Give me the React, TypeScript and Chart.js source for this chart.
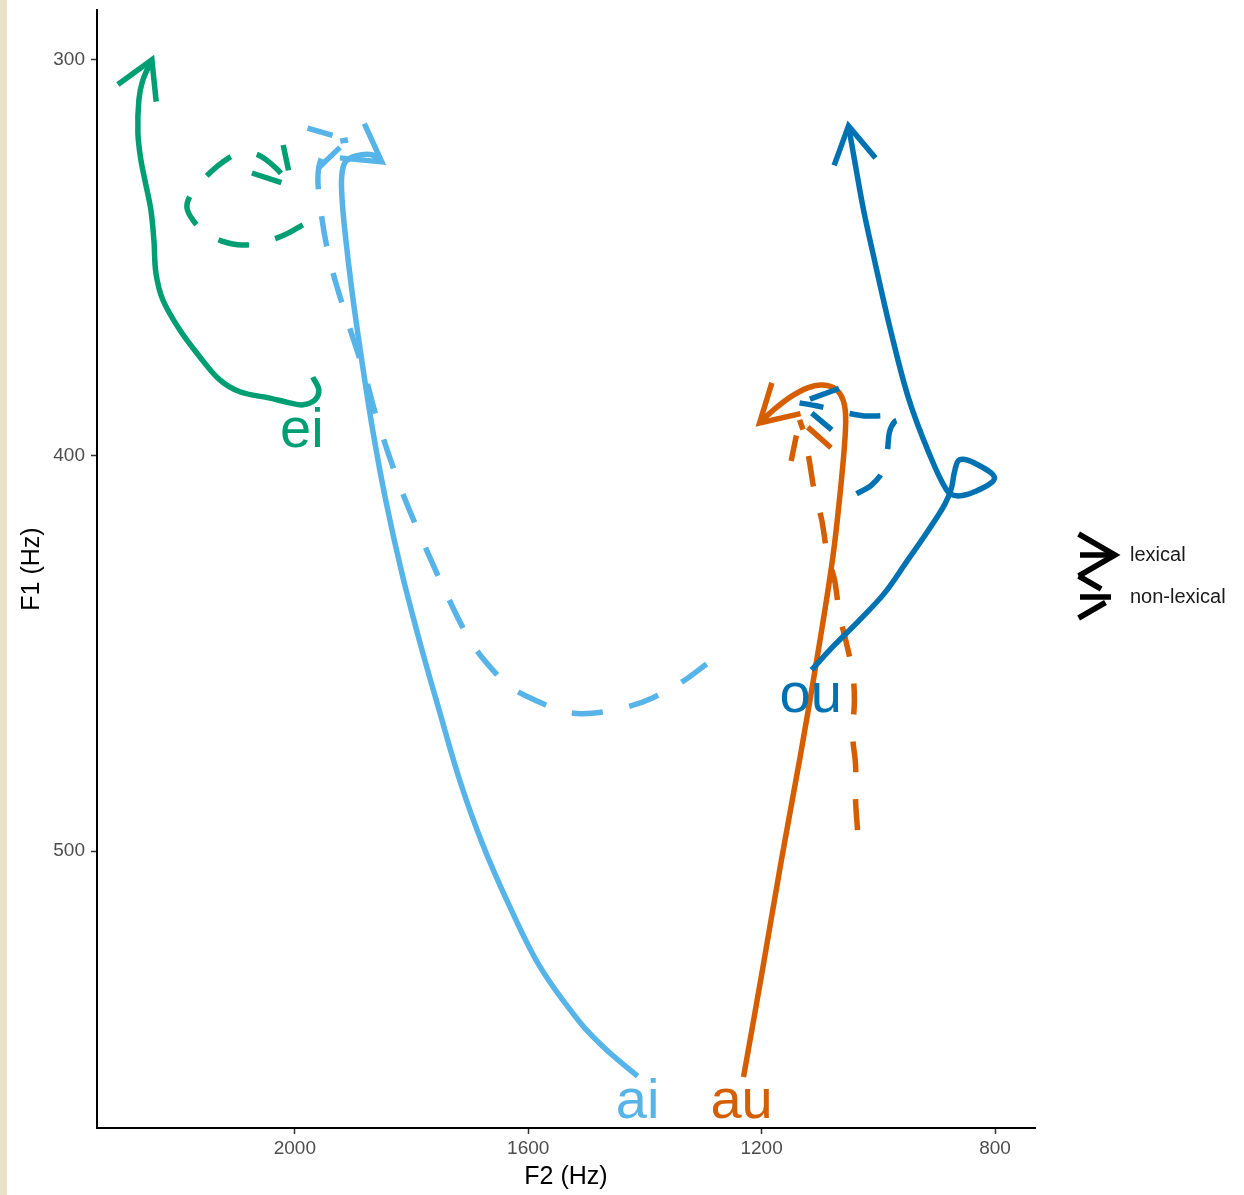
import React, { useEffect, useRef } from 'react';
import { Chart, registerables } from 'chart.js';

Chart.register(...registerables);

const FONT = "'Liberation Sans', Arial, Helvetica, sans-serif";

// categories
const vowels = ['ei', 'ai', 'au', 'ou'];
const conditions = ['lexical', 'non-lexical'];
const vowelColors = ['#009E73', '#56B4E9', '#D55E00', '#0072B2'];
const conditionDashes: number[][] = [[], [31, 27]];

// axes
const f2Ticks = [800, 1200, 1600, 2000];
const f1Ticks = [300, 400, 500];
const f2Min = 731.5;
const f2Max = 2339;
const f1Min = 287.4;
const f1Max = 570;

// ei
const eiLexF2 = [1969.2, 1958.9, 1965.7, 1986.3, 2008.6, 2042.8, 2094.2, 2128.5, 2162.7, 2197.0, 2226.1, 2238.0, 2241.5, 2246.6, 2255.2, 2263.8, 2268.9, 2267.2, 2260.4, 2244.9];
const eiLexF1 = [380.2, 383.4, 386.0, 387.2, 386.7, 385.5, 383.9, 380.9, 375.1, 368.3, 360.7, 353.9, 345.5, 338.0, 331.6, 325.3, 318.5, 310.1, 305.1, 300.0];
const eiNonF2 = [1986.3, 2017.1, 2051.4, 2089.1, 2125.0, 2154.2, 2174.7, 2185.0, 2176.4, 2154.2, 2125.0, 2094.2, 2063.4, 2034.3, 2005.1];
const eiNonF1 = [341.7, 344.2, 346.0, 346.8, 345.8, 343.5, 340.5, 337.2, 333.6, 329.8, 326.0, 323.5, 324.0, 327.1, 331.9];

// ai
const aiLexF2 = [1412.5, 1465.6, 1511.9, 1580.4, 1635.2, 1679.7, 1717.4, 1751.6, 1784.2, 1816.7, 1844.1, 1866.4, 1885.2, 1902.3, 1914.3, 1919.4, 1919.4, 1913.4, 1895.5, 1868.1, 1851.0];
const aiLexF1 = [556.9, 550.3, 543.2, 529.1, 512.9, 497.7, 482.1, 464.9, 448.0, 429.6, 411.4, 393.7, 376.0, 358.2, 343.1, 334.2, 329.1, 325.8, 324.3, 324.0, 325.8];
const aiNonF2 = [1294.3, 1337, 1387, 1431, 1486, 1534, 1589, 1632, 1671, 1700, 1729, 1781, 1820, 1860, 1880, 1914, 1943, 1959, 1959, 1947, 1931, 1909];
const aiNonF1 = [452.7, 457.3, 461.3, 463.6, 465.1, 464.9, 461.8, 458.3, 452.5, 446.6, 438.5, 421.6, 407.7, 390.3, 379.6, 364.0, 348.8, 333.6, 327.3, 322.8, 321.0, 320.2];

// au
const auLexF2 = [1231.0, 1198.5, 1166.0, 1133.4, 1102.6, 1078.6, 1064.9, 1056.3, 1058.1, 1071.6, 1095.6, 1121.3, 1150.4, 1179.5, 1203.5];
const auLexF1 = [557.1, 530.0, 502.2, 475.7, 449.1, 426.4, 408.7, 393.5, 387.2, 383.4, 382.2, 382.9, 385.2, 388.5, 391.8];
const auNonF2 = [1035.6, 1039, 1039, 1044, 1041, 1044, 1056, 1066.5, 1075, 1087, 1097, 1109, 1118, 1126.4, 1135];
const auNonF1 = [494.7, 487.1, 478.3, 470.7, 461.8, 455.0, 446.6, 440.3, 431.5, 425.4, 416.3, 409.5, 401.6, 394.8, 391.0];

// ou
const ouLexF2 = [1114.4, 1075.0, 1032.2, 989.4, 951.7, 917.4, 886.6, 874.6, 869.5, 860.9, 835.2, 800.9, 835.2, 866.1, 883.2, 914.0, 948.3, 979.1, 1004.8, 1025.4, 1040.8, 1051.1];
const ouLexF1 = [454.2, 447.9, 441.6, 434.8, 426.9, 419.6, 412.5, 408.2, 404.2, 401.1, 401.9, 405.7, 409.2, 410.2, 408.7, 399.1, 385.5, 368.3, 351.8, 337.9, 325.3, 316.7];
const ouNonF2 = [1037.3, 1011.7, 991.2, 984.3, 980.9, 972.3, 960.3, 980.9, 1023.7, 1071.6, 1104.2, 1135.0];
const ouNonF1 = [409.7, 407.5, 403.7, 398.6, 394.1, 391.5, 390.8, 390.0, 390.0, 388.7, 387.5, 386.7];

// vowel label anchors (text baseline centre)
const labelF2 = [1988, 1412.5, 1234.3, 1116];
const labelF1 = [397.8, 567.5, 567.5, 464.9];

// drawing order: first listed is drawn on top
const seriesList = [
  { vowel: 3, condition: 0, f2: ouLexF2, f1: ouLexF1 },
  { vowel: 3, condition: 1, f2: ouNonF2, f1: ouNonF1 },
  { vowel: 2, condition: 0, f2: auLexF2, f1: auLexF1 },
  { vowel: 2, condition: 1, f2: auNonF2, f1: auNonF1 },
  { vowel: 1, condition: 0, f2: aiLexF2, f1: aiLexF1 },
  { vowel: 1, condition: 1, f2: aiNonF2, f1: aiNonF1 },
  { vowel: 0, condition: 0, f2: eiLexF2, f1: eiLexF1 },
  { vowel: 0, condition: 1, f2: eiNonF2, f1: eiNonF1 },
];

const LINE_W = 5.5;
const ARROW_LEN = 42;
const ARROW_ANG = Math.PI / 6;

function drawArrow(ctx: CanvasRenderingContext2D, tipX: number, tipY: number, ang: number, color: string, dash: number[]) {
  ctx.save();
  ctx.strokeStyle = color;
  ctx.lineWidth = LINE_W;
  ctx.setLineDash(dash);
  ctx.lineCap = 'butt';
  ctx.lineJoin = 'miter';
  ctx.beginPath();
  ctx.moveTo(tipX - ARROW_LEN * Math.cos(ang - ARROW_ANG), tipY - ARROW_LEN * Math.sin(ang - ARROW_ANG));
  ctx.lineTo(tipX, tipY);
  ctx.lineTo(tipX - ARROW_LEN * Math.cos(ang + ARROW_ANG), tipY - ARROW_LEN * Math.sin(ang + ARROW_ANG));
  ctx.stroke();
  ctx.restore();
}

const arrowPlugin = {
  id: 'pathArrows',
  afterDatasetDraw(chart: any, args: any) {
    const meta = args.meta;
    const ds = chart.data.datasets[args.index];
    const pts = meta.data;
    const n = pts.length;
    if (n < 2) return;
    const tip = pts[n - 1];
    const prev = pts[n - 2];
    const ang = Math.atan2(tip.y - prev.y, tip.x - prev.x);
    drawArrow(chart.ctx, tip.x, tip.y, ang, ds.borderColor, ds.borderDash || []);
  },
};

const labelPlugin = {
  id: 'vowelLabels',
  afterDatasetsDraw(chart: any) {
    const ctx = chart.ctx;
    const xs = chart.scales.x;
    const ys = chart.scales.y;
    ctx.save();
    ctx.font = `56px ${FONT}`;
    ctx.textAlign = 'center';
    ctx.textBaseline = 'alphabetic';
    vowels.forEach((v, i) => {
      ctx.fillStyle = vowelColors[i];
      ctx.fillText(v, xs.getPixelForValue(labelF2[i]), ys.getPixelForValue(labelF1[i]));
    });
    ctx.restore();
  },
};

const legendPlugin = {
  id: 'arrowLegend',
  afterDraw(chart: any) {
    const ctx = chart.ctx;
    const { right, top, bottom } = chart.chartArea;
    const cy = (top + bottom) / 2;
    const keyYs = [cy - 14, cy + 28];
    const x0 = right + 45;
    const x1 = right + 80;
    conditions.forEach((c, i) => {
      const y = keyYs[i];
      ctx.save();
      ctx.strokeStyle = '#000000';
      ctx.lineWidth = LINE_W;
      ctx.setLineDash(conditionDashes[i]);
      ctx.lineCap = 'butt';
      ctx.beginPath();
      ctx.moveTo(x0, y);
      ctx.lineTo(x1, y);
      ctx.stroke();
      ctx.restore();
      drawArrow(ctx, x1, y, 0, '#000000', conditionDashes[i]);
      ctx.save();
      ctx.fillStyle = '#1A1A1A';
      ctx.font = `20px ${FONT}`;
      ctx.textAlign = 'left';
      ctx.textBaseline = 'middle';
      ctx.fillText(c, right + 95, y);
      ctx.restore();
    });
  },
};

export default function App() {
  const ref = useRef<HTMLCanvasElement | null>(null);
  useEffect(() => {
    document.body.style.margin = '0';
    const canvas = ref.current;
    if (!canvas) return;
    const datasets = seriesList.map((s, i) => ({
      label: `${vowels[s.vowel]} ${conditions[s.condition]}`,
      data: s.f2.map((x, k) => ({ x, y: s.f1[k] })),
      borderColor: vowelColors[s.vowel],
      backgroundColor: vowelColors[s.vowel],
      borderWidth: LINE_W,
      borderDash: conditionDashes[s.condition],
      borderCapStyle: 'butt' as const,
      borderJoinStyle: 'round' as const,
      showLine: true,
      pointRadius: 0,
      pointHoverRadius: 0,
      tension: 0.35,
      fill: false,
      order: i,
    }));
    const tickFont = { family: FONT, size: 19 };
    const titleFont = { family: FONT, size: 25 };
    const chart = new Chart(canvas, {
      type: 'scatter',
      data: { datasets },
      options: {
        responsive: false,
        animation: false,
        devicePixelRatio: 1,
        layout: { padding: { top: 10, right: 209, left: 0, bottom: 0 } },
        plugins: { legend: { display: false }, tooltip: { enabled: false } },
        events: [],
        scales: {
          x: {
            type: 'linear',
            reverse: true,
            min: f2Min,
            max: f2Max,
            afterBuildTicks: (s: any) => {
              s.ticks = f2Ticks.map((v) => ({ value: v }));
            },
            afterFit: (s: any) => {
              s.height = 67;
              s.paddingLeft = 0;
              s.paddingRight = 0;
            },
            ticks: {
              font: tickFont,
              color: '#4D4D4D',
              padding: 3,
              maxRotation: 0,
              autoSkip: false,
              callback: (v: any) => String(v),
            },
            grid: { drawOnChartArea: false, drawTicks: true, tickLength: 6, tickColor: '#333333', tickWidth: 1.5 },
            border: { display: true, color: '#000000', width: 2 },
            title: { display: true, text: 'F2 (Hz)', color: '#000000', font: titleFont, padding: { top: 0, bottom: 3 } },
          },
          y: {
            type: 'linear',
            reverse: true,
            min: f1Min,
            max: f1Max,
            afterBuildTicks: (s: any) => {
              s.ticks = f1Ticks.map((v) => ({ value: v }));
            },
            afterFit: (s: any) => {
              s.width = 97;
              s.paddingTop = 0;
              s.paddingBottom = 0;
            },
            ticks: {
              font: tickFont,
              color: '#4D4D4D',
              padding: 6,
              autoSkip: false,
              callback: (v: any) => String(v),
            },
            grid: { drawOnChartArea: false, drawTicks: true, tickLength: 6, tickColor: '#333333', tickWidth: 1.5 },
            border: { display: true, color: '#000000', width: 2 },
            title: { display: true, text: 'F1 (Hz)', color: '#000000', font: titleFont, padding: { top: 17, bottom: 0 } },
          },
        },
      } as any,
      plugins: [arrowPlugin, labelPlugin, legendPlugin],
    });
    return () => chart.destroy();
  }, []);
  return (
    <div
      style={{
        width: 1244,
        height: 1195,
        background: 'linear-gradient(to right, #E9E2C9 0px, #E9E2C9 7px, #FFFFFF 7px)',
      }}
    >
      <canvas ref={ref} width={1244} height={1195} style={{ display: 'block', width: 1244, height: 1195 }} />
    </div>
  );
}
